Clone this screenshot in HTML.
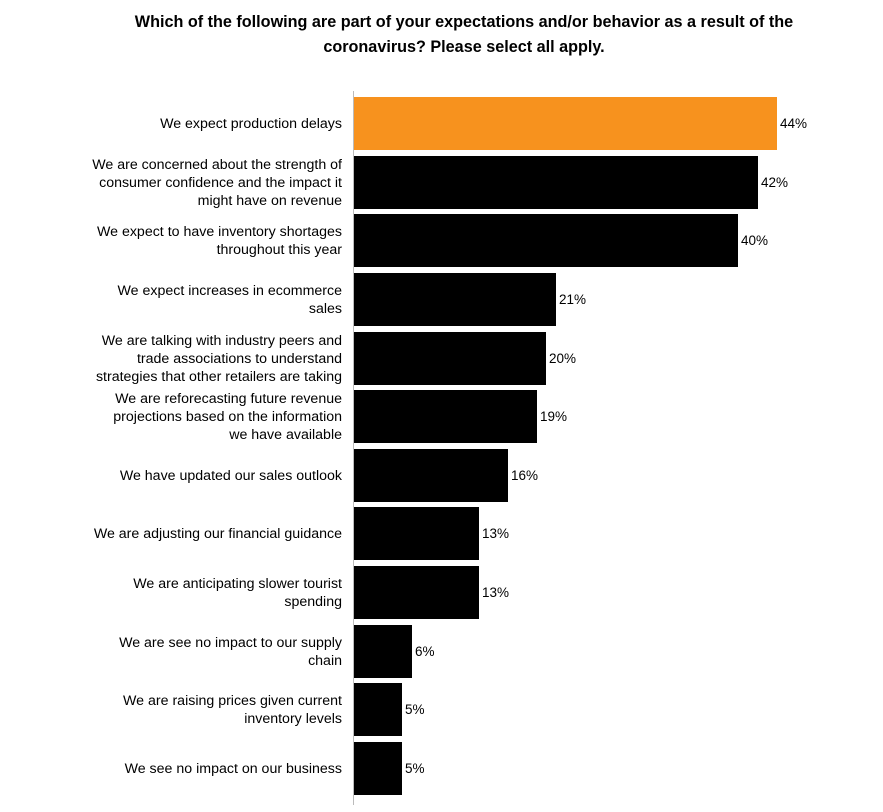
<!DOCTYPE html>
<html><head><meta charset="utf-8"><style>
body{margin:0;width:883px;height:812px;background:#fff;position:relative;font-family:"Liberation Sans",sans-serif;overflow:hidden}
.t{position:absolute;left:0;width:928px;text-align:center;top:10px;font-weight:bold;font-size:16.2px;line-height:25px;color:#000}
.ax{position:absolute;left:353px;top:91px;width:1px;height:714px;background:#bbb}
.b{position:absolute;left:354px;height:53px;background:#000}
.l{position:absolute;right:541px;width:300px;text-align:right;font-size:14.2px;line-height:18px;color:#000;display:flex;align-items:center;justify-content:flex-end;height:53px}
.v{position:absolute;font-size:13.5px;line-height:53px;height:53px;color:#000}
</style></head><body>
<div class="t">Which of the following are part of your expectations and/or behavior as a result of the<br>coronavirus? Please select all apply.</div>
<div class="ax"></div>
<div id="c"></div>
<script>
var d=[["We expect production delays",44,777],
["We are concerned about the strength of<br>consumer confidence and the impact it<br>might have on revenue",42,758],
["We expect to have inventory shortages<br>throughout this year",40,738],
["We expect increases in ecommerce<br>sales",21,556],
["We are talking with industry peers and<br>trade associations to understand<br>strategies that other retailers are taking",20,546],
["We are reforecasting future revenue<br>projections based on the information<br>we have available",19,537],
["We have updated our sales outlook",16,508],
["We are adjusting our financial guidance",13,479],
["We are anticipating slower tourist<br>spending",13,479],
["We are see no impact to our supply<br>chain",6,412],
["We are raising prices given current<br>inventory levels",5,402],
["We see no impact on our business",5,402]];
var h="";
d.forEach(function(r,i){var y=Math.round(97+i*58.64);
h+='<div class="b" style="top:'+y+'px;width:'+(r[2]-354)+'px;'+(i==0?'background:#f7921e':'')+'"></div>';
h+='<div class="l" style="top:'+y+'px"><span>'+r[0]+'</span></div>';
h+='<div class="v" style="top:'+y+'px;left:'+(r[2]+3)+'px">'+r[1]+'%</div>';});
document.getElementById("c").innerHTML=h;
</script>
</body></html>
